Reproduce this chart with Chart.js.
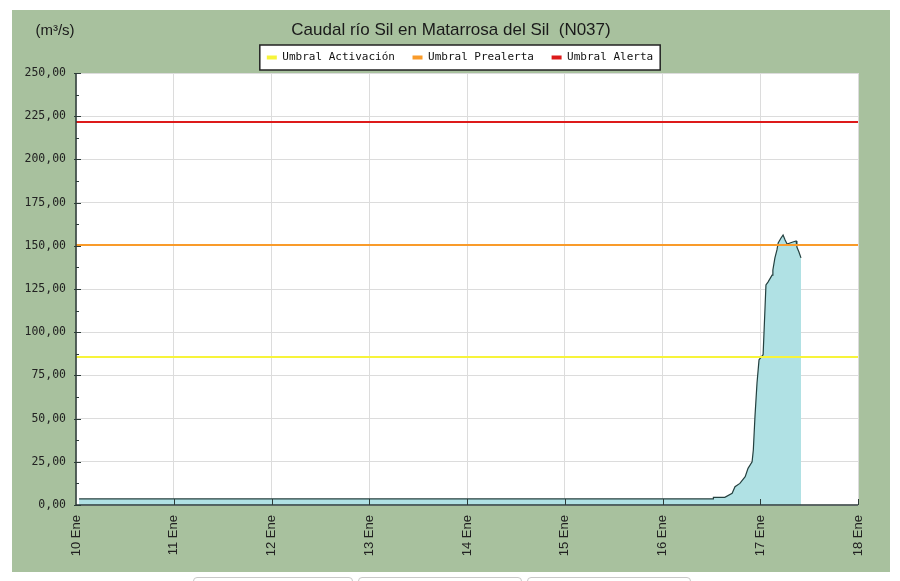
<!DOCTYPE html>
<html>
<head>
<meta charset="utf-8">
<script src="https://cdn.jsdelivr.net/npm/chart.js@4/dist/chart.umd.min.js"></script>
<style>
  html, body { margin: 0; padding: 0; background: #fff; overflow: hidden; }
  #wrap { position: relative; width: 900px; height: 581px; }
  .btn { position: absolute; top: 577px; height: 12px; border: 1px solid #c8c8c8; border-radius: 4px; background: #fff; }
</style>
</head>
<body>
<div id="wrap">
  <canvas id="chart-caudal" width="900" height="581"></canvas>
  <div class="btn" style="left:193px;width:158px"></div>
  <div class="btn" style="left:358px;width:162px"></div>
  <div class="btn" style="left:527px;width:162px"></div>
</div>
<script>
// horas desde el 10 Ene 00:00
const horas = [0.75, 156.4, 156.5, 159.3, 161.1, 161.8, 163.0, 164.3, 165.0, 166.0, 166.3, 166.7,
  167.2, 167.7, 168.7, 169.4, 169.9, 170.9, 171.1, 171.6, 172.1, 172.4, 173.1, 173.6, 174.1,
  174.6, 175.3, 176.0, 176.8, 177.0, 177.5, 178.0]
const caudal = [3.5, 3.5, 4.4, 4.4, 6.8, 10.6, 12.5, 16.4, 21.2, 25.0, 31.8, 51.0,
  70.5, 84.0, 87.0, 127.3, 129.0, 133.0, 136.0, 143.0, 147.6, 151.6, 154.5, 156.2, 153.3,
  151.0, 151.6, 152.2, 152.8, 149.3, 146.4, 143.0]

const umbrales = ['Umbral Activación', 'Umbral Prealerta', 'Umbral Alerta']
const umbral_valores = [85.6, 150.5, 221.6]
const umbral_colores = ['#f7f43a', '#f99b2a', '#dd1a1a']

const etiquetas_x = ['10 Ene', '11 Ene', '12 Ene', '13 Ene', '14 Ene', '15 Ene', '16 Ene', '17 Ene', '18 Ene']
const x_max = 192

const PANEL = '#a8c19e'
const EJE = '#2c3b38'
const SANS = '"Liberation Sans", Arial, sans-serif'

const fondo = {
  id: 'fondo',
  afterLayout(chart) {
    // la leyenda va algo desplazada a la derecha
    if (chart.legend) {
      chart.legend.left += 9
      chart.legend.right += 9
    }
  },
  beforeDraw(chart) {
    const ctx = chart.ctx
    const a = chart.chartArea
    ctx.save()
    ctx.fillStyle = '#fff'
    ctx.fillRect(0, 0, chart.width, chart.height)
    ctx.fillStyle = PANEL
    ctx.fillRect(12, 10, 878, 562)
    ctx.fillStyle = '#fff'
    ctx.fillRect(a.left, a.top, a.right - a.left, a.bottom - a.top)
    // caja de la leyenda
    const hb = chart.legend.legendHitBoxes
    if (hb && hb.length) {
      const l = Math.min(...hb.map(h => h.left)) - 7
      const r = Math.max(...hb.map(h => h.left + h.width)) + 7
      const cy = hb[0].top + hb[0].height / 2
      ctx.fillStyle = '#fff'
      ctx.fillRect(l, cy - 12.5, r - l, 25)
      ctx.strokeStyle = '#222'
      ctx.lineWidth = 1.5
      ctx.strokeRect(l, cy - 12.5, r - l, 25)
    }
    ctx.restore()
  },
  afterDraw(chart) {
    const ctx = chart.ctx
    const a = chart.chartArea
    const y = chart.scales.y
    const x = chart.scales.x
    ctx.save()
    ctx.strokeStyle = EJE
    ctx.lineWidth = 1.5
    ctx.beginPath()
    ctx.moveTo(a.left, a.top)
    ctx.lineTo(a.left, a.bottom)
    ctx.lineTo(a.right, a.bottom)
    ctx.stroke()
    ctx.lineWidth = 1
    ctx.beginPath()
    for (let v = 0; v <= 250; v += 12.5) {
      const py = Math.round(y.getPixelForValue(v)) + 0.5
      const major = v % 25 === 0
      ctx.moveTo(a.left - (major ? 2 : 0), py)
      ctx.lineTo(a.left + (major ? 5 : 3), py)
    }
    for (let h = 24; h <= x_max; h += 24) {
      const px = Math.round(x.getPixelForValue(h)) + 0.5
      ctx.moveTo(px, a.bottom)
      ctx.lineTo(px, a.bottom - 6)
    }
    ctx.stroke()
    ctx.fillStyle = '#1a1a1a'
    ctx.font = '15px ' + SANS
    ctx.textAlign = 'center'
    ctx.textBaseline = 'middle'
    ctx.fillText('(m³/s)', 55, 31)
    ctx.restore()
  }
}

function make_chart() {
  const canvas = document.getElementById('chart-caudal')

  const datasets = umbrales.map((nombre, i) => ({
    label: nombre,
    data: [{x: 0, y: umbral_valores[i]}, {x: x_max, y: umbral_valores[i]}],
    borderColor: umbral_colores[i],
    backgroundColor: umbral_colores[i],
    borderWidth: 2,
    pointRadius: 0,
    fill: false,
    order: 0,
  }))
  datasets.push({
    label: 'Caudal',
    data: horas.map((h, i) => ({x: h, y: caudal[i]})),
    borderColor: '#24403f',
    backgroundColor: '#b0e1e4',
    borderWidth: 1.2,
    pointRadius: 0,
    fill: 'origin',
    order: 10,
  })

  return new Chart(canvas, {
    type: 'line',
    data: { datasets: datasets },
    options: {
      responsive: false,
      animation: false,
      layout: { padding: { left: 12, right: 10, top: 10, bottom: 0 } },
      plugins: {
        tooltip: { enabled: false },
        title: {
          display: true,
          text: 'Caudal río Sil en Matarrosa del Sil  (N037)',
          color: '#1a1a1a',
          font: { family: SANS, size: 17, weight: 'normal', lineHeight: 1.2 },
          padding: { top: 10, bottom: 0.6 },
        },
        legend: {
          display: true,
          labels: {
            color: '#111',
            font: { family: '"DejaVu Sans Mono", monospace', size: 11 },
            boxWidth: 10,
            boxHeight: 4,
            padding: 11,
            filter: item => item.datasetIndex < umbrales.length,
            generateLabels: chart => {
              const items = Chart.defaults.plugins.legend.labels.generateLabels(chart)
              items.forEach((it, i) => {
                it.lineWidth = 0
                if (i < umbrales.length - 1) it.text = it.text + ' '
              })
              return items
            },
          },
        },
      },
      scales: {
        x: {
          type: 'linear',
          min: 0,
          max: x_max,
          afterFit: s => { s.height = 76 },
          afterBuildTicks: s => { s.ticks = etiquetas_x.map((t, i) => ({value: i * 24})) },
          ticks: {
            autoSkip: false,
            minRotation: 90,
            maxRotation: 90,
            padding: 10,
            color: '#222',
            font: { family: SANS, size: 13 },
            callback: v => etiquetas_x[Math.round(v / 24)],
          },
          grid: { color: '#dcdcdc', drawTicks: false },
          border: { display: false },
        },
        y: {
          type: 'linear',
          min: 0,
          max: 250,
          afterFit: s => { s.width = 64 },
          ticks: {
            stepSize: 25,
            padding: 10,
            color: '#222',
            font: { family: '"DejaVu Sans Mono", monospace', size: 11.5 },
            callback: v => v.toFixed(2).replace('.', ','),
          },
          grid: { color: '#dcdcdc', drawTicks: false },
          border: { display: false },
        },
        y2: {
          type: 'linear',
          position: 'right',
          afterFit: s => { s.width = 32 },
          ticks: { display: false },
          grid: { display: false },
          border: { display: false },
        },
      },
    },
    plugins: [fondo],
  })
}

let chart = make_chart()
</script>
</body>
</html>
